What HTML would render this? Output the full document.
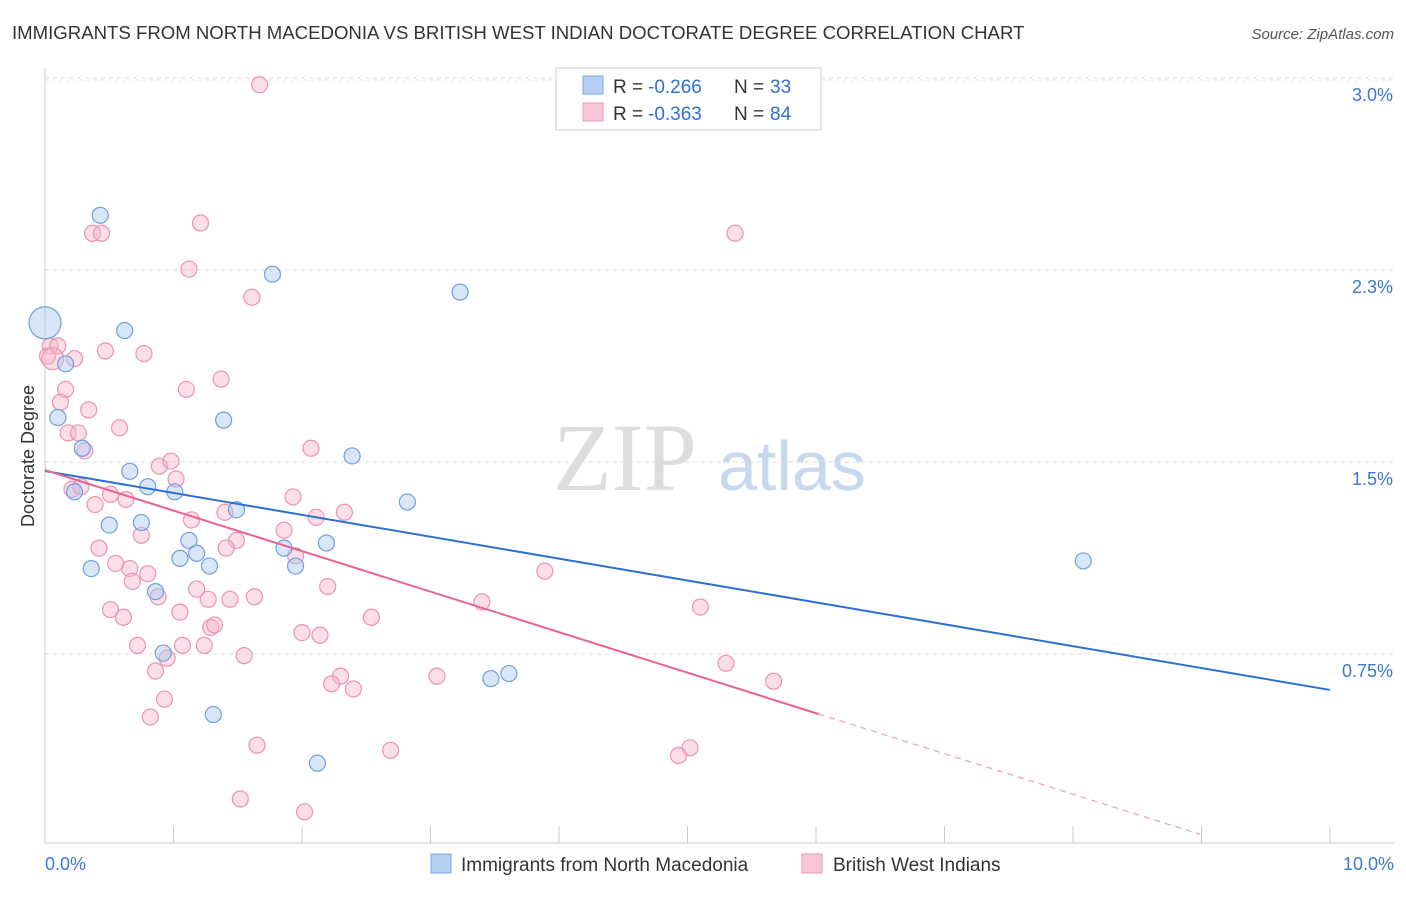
<!DOCTYPE html>
<html><head><meta charset="utf-8"><style>
body{margin:0;background:#fff;font-family:"Liberation Sans",sans-serif}
#wrap{position:relative;width:1406px;height:892px}
</style></head><body>
<div id="wrap">
<svg id="svg" width="1406" height="892" xmlns="http://www.w3.org/2000/svg">
<text x="12" y="39" font-size="18.6" fill="#333">IMMIGRANTS FROM NORTH MACEDONIA VS BRITISH WEST INDIAN DOCTORATE DEGREE CORRELATION CHART</text>
<text x="1394" y="39" font-size="15" fill="#555" font-style="italic" text-anchor="end">Source: ZipAtlas.com</text>
<text x="34" y="456" font-size="18" fill="#333" text-anchor="middle" transform="rotate(-90 34 456)">Doctorate Degree</text>
<text x="553" y="490" font-size="96" fill="#ddd" font-family="Liberation Serif,serif">ZIP</text>
<text x="718" y="490" font-size="70" fill="#c8d8ee">atlas</text>
<g id="grid"></g><g id="axes"></g><g id="pts"></g><g id="lines"></g>
<g>
<rect x="556" y="68" width="265" height="62" fill="#fff" stroke="#ccc"/>
<rect x="583" y="76" width="20" height="18" fill="#b5d0f3" stroke="#7aa8e0"/>
<rect x="583" y="103" width="20" height="18" fill="#f9c7d6" stroke="#ec9ab3"/>
<text x="613" y="93" font-size="19" fill="#333">R =</text>
<text x="648" y="93" font-size="19" fill="#2f6fd1">-0.266</text>
<text x="734" y="93" font-size="19" fill="#333">N =</text>
<text x="770" y="93" font-size="19" fill="#2f6fd1">33</text>
<text x="613" y="120" font-size="19" fill="#333">R =</text>
<text x="648" y="120" font-size="19" fill="#2f6fd1">-0.363</text>
<text x="734" y="120" font-size="19" fill="#333">N =</text>
<text x="770" y="120" font-size="19" fill="#2f6fd1">84</text>
</g>
<g>
<rect x="431" y="854" width="20" height="19" fill="#b5d0f3" stroke="#7aa8e0"/>
<text x="461" y="871" font-size="19" fill="#333">Immigrants from North Macedonia</text>
<rect x="802" y="854" width="20" height="19" fill="#f9c7d6" stroke="#ec9ab3"/>
<text x="833" y="871" font-size="19" fill="#333">British West Indians</text>
</g>
</svg></div>
<script>
const xTicks=[0,1,2,3,4,5,6,7,8,9,10];
const yTicks=[0.75,1.5,2.25,3.0];
const yTickLabels=["0.75%","1.5%","2.3%","3.0%"];
const blueX=[0,0.43,0.62,0.16,0.10,0.29,0.23,0.66,0.80,1.01,0.50,0.75,0.36,0.86,1.12,1.18,1.05,1.28,1.49,1.39,1.77,1.86,1.95,2.19,2.39,2.82,3.23,3.47,3.61,0.92,1.31,2.12,8.08];
const blueY=[2.11,2.53,2.08,1.95,1.74,1.62,1.45,1.53,1.47,1.45,1.32,1.33,1.15,1.06,1.26,1.21,1.19,1.16,1.38,1.73,2.30,1.23,1.16,1.25,1.59,1.41,2.23,0.72,0.74,0.82,0.58,0.39,1.18];
const pinkX=[1.67,1.21,0.37,0.44,1.12,1.61,5.37,0.04,0.10,0.02,0.23,0.47,0.77,0.16,1.37,1.10,0.12,0.34,0.58,0.18,0.26,0.31,2.07,0.89,0.98,1.02,0.21,0.28,0.51,0.63,0.39,1.93,1.14,1.40,2.33,2.11,1.86,0.75,1.49,1.41,0.42,0.55,0.66,0.80,0.68,1.95,2.20,3.89,0.88,1.18,1.27,1.44,1.63,0.51,0.61,1.05,3.40,2.54,5.10,1.29,1.32,2.00,2.14,0.72,1.07,1.24,0.95,1.55,0.86,2.30,2.23,2.40,3.05,5.30,5.67,0.93,0.82,1.65,2.69,5.02,4.93,1.52,2.02,0.06];
const pinkY=[3.04,2.50,2.46,2.46,2.32,2.21,2.46,2.02,2.02,1.98,1.97,2.00,1.99,1.85,1.89,1.85,1.80,1.77,1.70,1.68,1.68,1.61,1.62,1.55,1.57,1.50,1.46,1.47,1.44,1.42,1.40,1.43,1.34,1.37,1.37,1.35,1.30,1.28,1.26,1.23,1.23,1.17,1.15,1.13,1.10,1.20,1.08,1.14,1.04,1.07,1.03,1.03,1.04,0.99,0.96,0.98,1.02,0.96,1.00,0.92,0.93,0.90,0.89,0.85,0.85,0.85,0.80,0.81,0.75,0.73,0.70,0.68,0.73,0.78,0.71,0.64,0.57,0.46,0.44,0.45,0.42,0.25,0.20,1.97];
const blueTrend=[1.531,0.676];
const pinkTrend=[1.535,0.582,6.02,8.99];
const X=v=>45+v*128.5, Y=v=>863-v*256;
const NS="http://www.w3.org/2000/svg";
function mk(t,a,p){const e=document.createElementNS(NS,t);for(const k in a)e.setAttribute(k,a[k]);p.appendChild(e);return e;}
const grid=document.getElementById('grid'),axes=document.getElementById('axes'),pts=document.getElementById('pts'),lines=document.getElementById('lines');
mk('line',{x1:45,x2:1394,y1:80,y2:80,stroke:'#e4e4e4','stroke-dasharray':'3,4'},grid);
yTicks.forEach((t,i)=>{
 const g=mk('line',{x1:45,x2:1394,y1:Y(t)-17,y2:Y(t)-17,stroke:'#ddd','stroke-dasharray':'4,4'},grid);
 
 
 const l=mk('text',{x:1393,y:Y(t)+6,'font-size':18,fill:'#3a78d4','text-anchor':'end'},grid);
 l.textContent=yTickLabels[i];
 
 
});
mk('line',{x1:45,x2:45,y1:68,y2:843,stroke:'#ccc'},axes);
mk('line',{x1:45,x2:1394,y1:843,y2:843,stroke:'#ccc'},axes);
xTicks.forEach(t=>{const k=mk('line',{x1:X(t),x2:X(t),y1:826,y2:843,stroke:'#ccc'},axes);
 
 });
const xl0=mk('text',{x:45,y:870,'font-size':18,fill:'#3a78d4'},axes);xl0.textContent=xTicks[0].toFixed(1)+'%';


const xl1=mk('text',{x:1394,y:870,'font-size':18,fill:'#3a78d4','text-anchor':'end'},axes);xl1.textContent=xTicks[10].toFixed(1)+'%';


pinkX.forEach((v,i)=>{const c=mk('circle',{cx:X(v),cy:Y(pinkY[i]),r:i==pinkX.length-1?11:8,fill:'rgba(246,182,202,0.45)',stroke:'#e995b0','stroke-width':1.2},pts);
 
 });
blueX.forEach((v,i)=>{const c=mk('circle',{cx:X(v),cy:Y(blueY[i]),r:i==0?16:8,fill:'rgba(170,200,240,0.45)',stroke:'#6f9fdc','stroke-width':1.2},pts);
 
 });
const bl=mk('line',{x1:X(0),y1:Y(blueTrend[0]),x2:X(10),y2:Y(blueTrend[1]),stroke:'#2f6fd1','stroke-width':2},lines);


const slope=(pinkTrend[1]-pinkTrend[0])/pinkTrend[2];
const pl=mk('line',{x1:X(0),y1:Y(pinkTrend[0]),x2:X(pinkTrend[2]),y2:Y(pinkTrend[1]),stroke:'#e8638f','stroke-width':2},lines);


const pd=mk('line',{x1:X(pinkTrend[2]),y1:Y(pinkTrend[1]),x2:X(pinkTrend[3]),y2:Y(pinkTrend[0]+slope*pinkTrend[3]),stroke:'#e8a0b8','stroke-width':1.2,'stroke-dasharray':'6,5'},lines);


</script>
</body></html>
